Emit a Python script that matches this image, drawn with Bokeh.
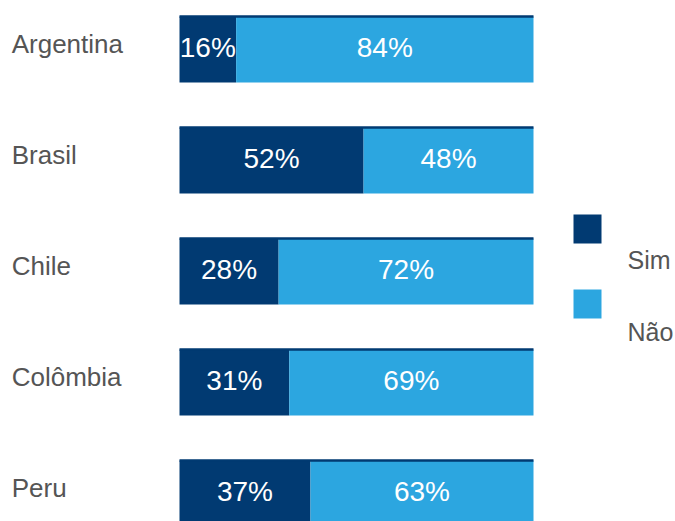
from bokeh.plotting import figure
from bokeh.models import Range1d, ColumnDataSource, BoxAnnotation, Label
from bokeh.core.properties import value
from bokeh.embed import file_html
from bokeh.resources import INLINE

countries = ["Argentina", "Brasil", "Chile", "Colômbia", "Peru"]
sim = [16, 52, 28, 31, 37]
nao = [84, 48, 72, 69, 63]
series_names = ["Sim", "Não"]

DARK = "#013A72"
LIGHT = "#2CA6E0"
GRAY = "#555555"
FONT = "Liberation Sans"

W, H = 675, 521
n = len(countries)
ypos = [n - 1 - i for i in range(n)]
total = [s + q for s, q in zip(sim, nao)]
BAR_H = 0.595

src = ColumnDataSource(dict(
    country=countries, y=ypos, sim=sim, nao=nao, total=total,
    sim_mid=[s / 2 for s in sim],
    nao_mid=[s + q / 2 for s, q in zip(sim, nao)],
    sim_lbl=[f"{v}%" for v in sim],
    nao_lbl=[f"{v}%" for v in nao],
    top=[y + BAR_H / 2 for y in ypos],
))

p = figure(width=W, height=H, output_backend="svg", toolbar_location=None,
           x_range=Range1d(-50.565, 140.113), y_range=Range1d(-0.2523, 4.4414),
           min_border=0, outline_line_color=None)
p.axis.visible = False
p.grid.visible = False

r_sim = p.hbar(y="y", left=0, right="sim", height=BAR_H, source=src,
               fill_color=DARK, line_color=None)
r_nao = p.hbar(y="y", left="sim", right="total", height=BAR_H, source=src,
               fill_color=LIGHT, line_color=None)
# thin dark rule along the top edge of each bar
p.segment(x0=0, x1="total", y0="top", y1="top", source=src,
          line_color=DARK, line_width=2.5)

p.text(x="sim_mid", y="y", text="sim_lbl", source=src, text_color="white",
       text_font=value(FONT), text_font_size="28px", text_align="center",
       text_baseline="middle", y_offset=-2)
p.text(x="nao_mid", y="y", text="nao_lbl", source=src, text_color="white",
       text_font=value(FONT), text_font_size="28px", text_align="center",
       text_baseline="middle", y_offset=-2)
p.text(x=-47.4, y="y", text="country", source=src, text_color=GRAY,
       text_font=value(FONT), text_font_size="26px", text_align="left",
       text_baseline="middle", y_offset=-5)

# legend: key squares with their labels set below-right
legend_colors = [DARK, LIGHT]
key_tops = [214, 289]
label_baselines = [259, 331]
for name, col, kt, lb in zip(series_names, legend_colors, key_tops, label_baselines):
    p.add_layout(BoxAnnotation(left=573, right=601, top=H - kt, bottom=H - kt - 29,
                               left_units="screen", right_units="screen",
                               top_units="screen", bottom_units="screen",
                               fill_color=col, fill_alpha=1, line_color=None,
                               level="overlay"))
    p.add_layout(Label(x=627, y=H - lb, x_units="screen", y_units="screen",
                       text=name, text_font=FONT, text_font_size="25px",
                       text_color=GRAY, text_baseline="alphabetic",
                       text_align="left"))

open("out.html", "w").write(file_html(p, INLINE))
